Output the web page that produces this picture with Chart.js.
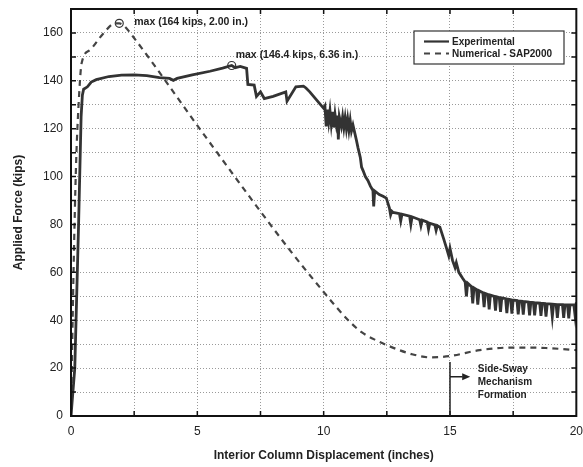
<!DOCTYPE html>
<html>
<head>
<meta charset="utf-8">
<script src="https://cdn.jsdelivr.net/npm/chart.js@4.4.1/dist/chart.umd.min.js"></script>
<style>
  html, body { margin: 0; padding: 0; background: #fff; }
  #wrap { width: 583px; height: 467px; position: relative; }
</style>
</head>
<body>
<div id="wrap"><canvas id="c"></canvas></div>
<script>
// ---------- DATA ----------
const expX = [0, 0.15, 0.3, 0.4, 0.45, 0.5, 0.65, 0.8, 1.0, 1.5, 2.0, 2.5, 3.0, 3.5, 3.9, 4.05, 4.2, 4.8, 5.5, 6.0, 6.36,
  6.5, 6.7, 6.95, 7.0, 7.25, 7.34, 7.5, 7.65, 8.0, 8.5, 8.55, 8.9, 9.2, 9.3, 9.45, 9.8, 10.0,
  10.05, 10.1, 10.15, 10.2, 10.25, 10.3, 10.35, 10.4, 10.45, 10.5, 10.55, 10.58, 10.62, 10.7, 10.75, 10.8, 10.85, 10.9, 10.95, 11.0, 11.05, 11.1, 11.16,
  11.3, 11.36, 11.45, 11.5, 11.56, 11.65, 11.75, 11.85, 11.95, 11.98, 12.02, 12.2, 12.35, 12.48, 12.6, 12.65, 12.7, 12.75,
  13.0, 13.05, 13.1, 13.4, 13.45, 13.5, 13.8, 13.85, 13.9, 14.1, 14.15, 14.2, 14.4, 14.45, 14.5, 14.6,
  14.75, 14.85, 14.95, 15.0, 15.1, 15.2, 15.25, 15.35, 15.5,
  15.6, 15.65, 15.7, 15.85, 15.9, 15.95, 16.05, 16.1, 16.15, 16.3, 16.35, 16.4, 16.5, 16.55, 16.6,
  16.75, 16.8, 16.85, 16.95, 17.0, 17.05, 17.2, 17.25, 17.3, 17.4, 17.45, 17.5, 17.65, 17.7, 17.75,
  17.85, 17.9, 17.95, 18.1, 18.15, 18.2, 18.3, 18.35, 18.4, 18.55, 18.6, 18.65, 18.75, 18.8, 18.85,
  19.0, 19.05, 19.1, 19.2, 19.25, 19.3, 19.45, 19.5, 19.55, 19.65, 19.7, 19.75, 19.9, 19.95, 20];
const expY = [0, 20, 80, 125, 134, 136.5, 137.5, 139.5, 140.5, 141.8, 142.4, 142.5, 142.2, 141.3, 141, 140.2, 141, 142.5, 144, 145.3, 146.4,
  145.5, 146, 145.2, 138.5, 138.2, 133.5, 135.4, 132.6, 133.5, 135.4, 131.5, 137.5, 137.8, 137, 135.4, 131, 128.5,
  129.5, 121, 128, 123, 127.5, 122, 127, 120.5, 126, 122, 125.5, 115.5, 125, 121, 125, 120.5, 124.5, 120, 124, 119.5, 123.5, 119, 121.5,
  115, 112, 108, 104, 102.5, 100, 98.4, 96, 94.2, 87.5, 94, 92.5, 91.8, 91, 87, 84, 85.5, 85,
  84.5, 81.5, 84.3, 83.5, 80, 83.2, 82, 79.5, 81.8, 81, 78, 80.5, 79.8, 77.5, 79.5, 78.9,
  74, 70.5, 67, 70, 65, 62, 64, 60, 57.5,
  56, 50, 55.5, 54, 47, 53.5, 52.8, 46.5, 52.3, 51.5, 45.5, 51.2, 50.8, 44.5, 50.5,
  50, 44, 49.8, 49.5, 43.5, 49.3, 49, 43, 48.8, 48.6, 42.8, 48.4, 48.2, 42.5, 48,
  47.9, 42.3, 47.8, 47.6, 42, 47.5, 47.4, 42, 47.3, 47.2, 41.8, 47.1, 47, 41.5, 46.9,
  46.8, 41.5, 46.7, 46.6, 41, 46.5, 46.5, 41, 46.4, 46.4, 40.8, 46.4, 46.5, 42, 47.5];

const numX = [0, 0.1, 0.2, 0.3, 0.42, 0.75, 1.28, 1.74, 1.91, 2.1, 2.46, 5.23, 8.66, 10.04, 10.5, 11.03, 11.5, 12.0, 12.48, 13.0, 13.5, 14.19, 14.98, 16.17, 17.48, 18.8, 20];
const numY = [0, 60, 105, 130, 147.3, 152.9, 159.8, 164, 164, 163, 158.4, 118, 69.3, 51.3, 45.5, 39.4, 35, 32, 29.7, 27.5, 25.8, 24.5, 25, 27.5, 28.6, 28.4, 27.5];

const maxX = [1.91, 6.36];
const maxY = [164, 146.4];
const maxLabels = ["max (164 kips, 2.00 in.)", "max (146.4 kips, 6.36 in.)"];

const seriesNames = ["Experimental", "Numerical - SAP2000"];
const noteLines = ["Side-Sway", "Mechanism", "Formation"];

const toPts = (xs, ys) => xs.map((x, i) => ({ x, y: ys[i] }));

// ---------- PLUGIN: frame, inward ticks, legend, notes ----------
const decor = {
  id: "decor",
  afterDatasetsDraw(chart) {
    const { ctx, chartArea: a, scales: { x, y } } = chart;
    ctx.save();
    // inward tick marks on all sides
    ctx.strokeStyle = "#111";
    ctx.lineWidth = 1.5;
    for (let v = 2.5; v < 20; v += 2.5) {
      const px = x.getPixelForValue(v);
      ctx.beginPath();
      ctx.moveTo(px, a.bottom); ctx.lineTo(px, a.bottom - 5);
      ctx.moveTo(px, a.top); ctx.lineTo(px, a.top + 5);
      ctx.stroke();
    }
    for (let v = 10; v < 170; v += 10) {
      const py = y.getPixelForValue(v);
      ctx.beginPath();
      ctx.moveTo(a.left, py); ctx.lineTo(a.left + 5, py);
      ctx.moveTo(a.right, py); ctx.lineTo(a.right - 5, py);
      ctx.stroke();
    }
    // frame
    ctx.lineWidth = 2;
    ctx.strokeRect(a.left, a.top, a.right - a.left, a.bottom - a.top);

    // max annotations
    ctx.fillStyle = "#222";
    ctx.font = "bold 10.5px 'Liberation Sans', Arial, sans-serif";
    ctx.textBaseline = "middle";
    ctx.textAlign = "left";
    ctx.fillText(maxLabels[0], x.getPixelForValue(maxX[0]) + 15, y.getPixelForValue(maxY[0]) - 1);
    ctx.fillText(maxLabels[1], x.getPixelForValue(maxX[1]) + 4, y.getPixelForValue(maxY[1]) - 10);

    // side-sway marker + arrow
    const x15 = x.getPixelForValue(15);
    ctx.strokeStyle = "#222";
    ctx.lineWidth = 1.5;
    ctx.beginPath();
    ctx.moveTo(x15, y.getPixelForValue(22.6));
    ctx.lineTo(x15, a.bottom);
    const ay = y.getPixelForValue(16.4);
    ctx.moveTo(x15, ay);
    ctx.lineTo(x.getPixelForValue(15.5), ay);
    ctx.stroke();
    const tip = x.getPixelForValue(15.8);
    ctx.beginPath();
    ctx.moveTo(tip, ay);
    ctx.lineTo(tip - 8, ay - 3.5);
    ctx.lineTo(tip - 8, ay + 3.5);
    ctx.closePath();
    ctx.fill();
    const tx = x.getPixelForValue(16.1);
    ctx.font = "bold 10px 'Liberation Sans', Arial, sans-serif";
    noteLines.forEach((t, i) => ctx.fillText(t, tx, 369 + i * 13));

    // legend box
    const lx = 414, ly = 31, lw = 150, lh = 33;
    ctx.fillStyle = "#fff";
    ctx.fillRect(lx, ly, lw, lh);
    ctx.strokeStyle = "#333";
    ctx.lineWidth = 1.2;
    ctx.strokeRect(lx, ly, lw, lh);
    chart.data.datasets.slice(0, 2).forEach((ds, i) => {
      const ry = ly + 10.5 + i * 12;
      ctx.strokeStyle = ds.borderColor;
      ctx.lineWidth = 2.2;
      ctx.setLineDash(ds.borderDash || []);
      ctx.beginPath();
      ctx.moveTo(lx + 10, ry);
      ctx.lineTo(lx + 35, ry);
      ctx.stroke();
      ctx.setLineDash([]);
      ctx.fillStyle = "#222";
      ctx.font = "bold 10px 'Liberation Sans', Arial, sans-serif";
      ctx.fillText(seriesNames[i], lx + 38, ry + 0.5);
    });
    ctx.restore();
  }
};

// tick marks themselves are drawn by the plugin; the transparent tick length only spaces the labels
const gridOpts = { color: "#9a9a9a", lineWidth: 1, drawTicks: true, tickLength: 8, tickColor: "rgba(0,0,0,0)" };
const tickFont = { family: "'Liberation Sans', Arial, sans-serif", size: 12 };
const titleFont = { family: "'Liberation Sans', Arial, sans-serif", size: 12, weight: "bold" };

new Chart(document.getElementById("c"), {
  type: "scatter",
  data: {
    datasets: [
      {
        label: seriesNames[0],
        data: toPts(expX, expY),
        showLine: true,
        borderColor: "#333",
        borderWidth: 2.8,
        pointRadius: 0,
        tension: 0,
      },
      {
        label: seriesNames[1],
        data: toPts(numX, numY),
        showLine: true,
        borderColor: "#444",
        borderWidth: 2.2,
        borderDash: [6, 5],
        pointRadius: 0,
        cubicInterpolationMode: "monotone",
      },
      {
        label: "max",
        data: toPts(maxX, maxY),
        showLine: false,
        pointRadius: 4,
        pointBorderWidth: 1.2,
        pointBorderColor: "#333",
        pointBackgroundColor: "rgba(255,255,255,0)",
      },
    ],
  },
  options: {
    responsive: true,
    maintainAspectRatio: false,
    animation: false,
    layout: { padding: { top: 9, right: 6, left: 0, bottom: 0 } },
    plugins: { legend: { display: false }, tooltip: { enabled: false } },
    scales: {
      x: {
        type: "linear",
        min: 0, max: 20,
        grid: gridOpts,
        border: { display: false, dash: [1, 2] },
        ticks: {
          stepSize: 2.5,
          padding: 0,
          color: "#222",
          font: tickFont,
          maxRotation: 0,
          autoSkip: false,
          callback: (v) => (v % 5 === 0 ? v : ""),
        },
        title: { display: true, text: "Interior Column Displacement (inches)", color: "#222", font: titleFont, padding: { top: 12, bottom: 4 } },
        afterFit: (s) => { s.height = 51; },
      },
      y: {
        min: 0, max: 170,
        grid: gridOpts,
        border: { display: false, dash: [1, 2] },
        ticks: {
          stepSize: 10,
          padding: 0,
          color: "#222",
          font: tickFont,
          autoSkip: false,
          callback: (v) => (v % 20 === 0 ? v : ""),
        },
        title: { display: true, text: "Applied Force (kips)", color: "#222", font: titleFont, padding: { top: 11, bottom: 4 } },
        afterFit: (s) => { s.width = 71; },
      },
    },
  },
  plugins: [decor],
});
</script>
</body>
</html>
